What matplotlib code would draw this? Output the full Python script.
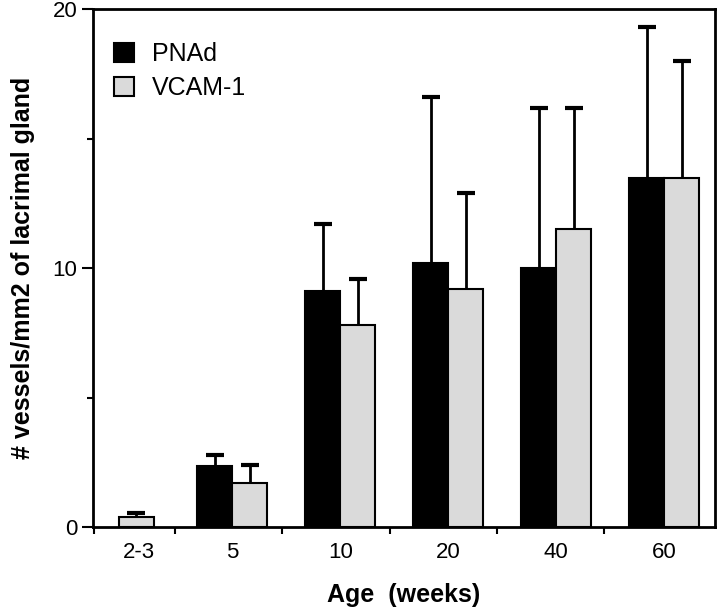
import matplotlib
matplotlib.use("Agg")
import matplotlib.pyplot as plt
import numpy as np

ages = ["2-3", "5", "10", "20", "40", "60"]
pnad = [np.nan, 2.35, 9.1, 10.2, 10.0, 13.5]
pnad_err = [np.nan, 0.45, 2.6, 6.4, 6.2, 5.8]
vcam = [0.4, 1.7, 7.8, 9.2, 11.5, 13.5]
vcam_err = [0.15, 0.7, 1.8, 3.7, 4.7, 4.5]

plt.rcParams['font.family'] = ['Liberation Sans', 'DejaVu Sans']

# category centres (first group only has one bar, sits closer to the axis)
xpos = np.array([0.11, 1, 2, 3, 4, 5])
w = 0.325

fig = plt.figure(figsize=(7.2, 6.13), dpi=100)
ax = fig.add_axes([0.129, 0.140, 0.864, 0.845])

m = ~np.isnan(pnad)
px = xpos[m] - w / 2
vx = xpos + w / 2
vx[0] = xpos[0]  # 2-3 has VCAM-1 only

ax.bar(px, np.array(pnad)[m], w, color='black', edgecolor='black',
       linewidth=1.5, label='PNAd', zorder=3)
ax.bar(vx, vcam, w, color='#dadada', edgecolor='black', linewidth=1.5,
       label='VCAM-1', zorder=3)


def up_errors(x, y, e):
    # one-sided error bars, only the top cap
    eb = ax.errorbar(x, y, yerr=[np.zeros(len(y)), e], fmt='none',
                     ecolor='black', elinewidth=2, capsize=6.5, capthick=3,
                     zorder=2)
    eb[1][0].set_visible(False)


up_errors(px, np.array(pnad)[m], np.array(pnad_err)[m])
up_errors(vx, np.array(vcam), np.array(vcam_err))

ax.set_xlim(-0.29, 5.47)
ax.set_ylim(0, 20)

ax.set_yticks([0, 10, 20])
ax.set_yticks([5, 15], minor=True)
ax.tick_params(axis='y', which='major', direction='out', length=8, width=1.5,
               labelsize=16, pad=3)
ax.tick_params(axis='y', which='minor', direction='out', length=4, width=1.5)

ax.set_xticks(xpos + np.array([0.03, 0, 0, 0, 0, 0]))
ax.set_xticklabels(ages)
ax.set_xticks([-0.28, 0.47, 1.46, 2.46, 3.45, 4.44], minor=True)
ax.tick_params(axis='x', which='major', length=0, labelsize=16, pad=11)
ax.tick_params(axis='x', which='minor', direction='out', length=5, width=1.5)

for s in ax.spines.values():
    s.set_linewidth(2)

ax.set_ylabel('# vessels/mm2 of lacrimal gland', fontsize=18,
              fontweight='bold', labelpad=13)
ax.set_xlabel('Age  (weeks)', fontsize=18, fontweight='bold', labelpad=14)

ax.legend(loc='upper left', frameon=False, fontsize=18, handlelength=0.8,
          handleheight=0.8, handletextpad=0.7, labelspacing=0.4,
          borderaxespad=0.4, bbox_to_anchor=(0.002, 0.975))

fig.savefig('out.png', dpi=100)
